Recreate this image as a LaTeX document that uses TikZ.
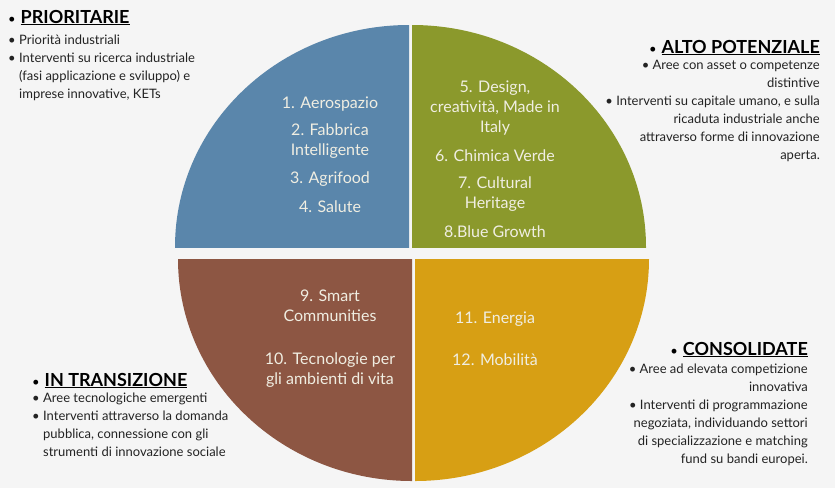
\documentclass[tikz,border=0pt]{standalone}
\usepackage{fontspec}
\setmainfont{Lato}

\definecolor{bggray}{RGB}{245,245,245}
\definecolor{quadblue}{RGB}{90,134,171}
\definecolor{quadgreen}{RGB}{139,153,44}
\definecolor{quadbrown}{RGB}{141,86,67}
\definecolor{quadgold}{RGB}{215,159,20}
\definecolor{labelwhite}{RGB}{240,238,226}
\definecolor{textgray}{RGB}{35,35,35}

\newcommand{\bitem}{\makebox[11pt][l]{\textbullet}}
\newcommand{\bcont}{\hspace*{11pt}}
\newcommand{\tbul}{{\normalfont\fontsize{13}{18}\selectfont\textbullet}\hspace{5pt}}

\begin{document}
\begin{tikzpicture}[
    x=1pt, y=-1pt,
    every node/.style={inner sep=0pt},
    sidetext/.style={font=\fontsize{13}{18}\selectfont, text=textgray},
    sidetitle/.style={font=\fontsize{18}{18}\selectfont\bfseries, text=black},
    sectorlabel/.style={font=\fontsize{16}{20}\selectfont, text=labelwhite, align=center},
]

% === Canvas ===
\fill[bggray] (0,0) rectangle (835,488);
\useasboundingbox (0,0) rectangle (835,488);

% === Ellipse radii ===
\def\rx{234}
\def\ry{222}

% === Quadrants (exploded pie) ===
% top left
\begin{scope}
    \clip (409,247) rectangle (0,0);
    \fill[quadblue] (409,247) ellipse [x radius=\rx, y radius=\ry];
\end{scope}
% top right
\begin{scope}
    \clip (412,247) rectangle (835,0);
    \fill[quadgreen] (412,247) ellipse [x radius=\rx, y radius=\ry];
\end{scope}
% bottom left
\begin{scope}
    \clip (412,259) rectangle (0,488);
    \fill[quadbrown] (412,259) ellipse [x radius=\rx, y radius=\ry];
\end{scope}
% bottom right
\begin{scope}
    \clip (415,259) rectangle (835,488);
    \fill[quadgold] (415,259) ellipse [x radius=\rx, y radius=\ry];
\end{scope}

% === Sector labels (base = last line) ===
\node[sectorlabel, anchor=base] (blue-list) at (330,212)
    {1. Aerospazio\\[7pt]2. Fabbrica\\Intelligente\\[8pt]3. Agrifood\\[9pt]4. Salute};
\node[sectorlabel, anchor=base] (green-list) at (495,237)
    {5. Design,\\creatività, Made in\\Italy\\[9pt]6. Chimica Verde\\[7pt]7. Cultural\\Heritage\\[9pt]8.Blue Growth};
\node[sectorlabel, anchor=base] (brown-list) at (330,384)
    {9. Smart\\Communities\\[23pt]10. Tecnologie per\\gli ambienti di vita};
\node[sectorlabel, anchor=base] (gold-list) at (495,365)
    {11. Energia\\[22pt]12. Mobilità};

% === Prioritarie (top left) ===
\node[sidetitle, anchor=base west] (prio-title) at (8,23)
    {\tbul\underline{PRIORITARIE}};
\node[sidetext, anchor=base west, align=left] (prio-text) at (8,98)
    {\bitem Priorità industriali\\
     \bitem Interventi su ricerca industriale\\
     \bcont(fasi applicazione e sviluppo) e\\
     \bcont imprese innovative, KETs};

% === Alto potenziale (top right) ===
\node[sidetitle, anchor=base east] (alto-title) at (820,53)
    {\tbul\underline{ALTO POTENZIALE}};
\node[sidetext, anchor=base east, align=right] (alto-text) at (820,159)
    {\textbullet\ Aree con asset o competenze\\
     distintive\\
     \textbullet\ Interventi su capitale umano, e sulla\\
     ricaduta industriale anche\\
     attraverso forme di innovazione\\
     aperta.};

% === In transizione (bottom left) ===
\node[sidetitle, anchor=base west] (trans-title) at (32,386)
    {\tbul\underline{IN TRANSIZIONE}};
\node[sidetext, anchor=base west, align=left] (trans-text) at (32,456)
    {\bitem Aree tecnologiche emergenti\\
     \bitem Interventi attraverso la domanda\\
     \bcont pubblica, connessione con gli\\
     \bcont strumenti di innovazione sociale};

% === Consolidate (bottom right) ===
\node[sidetitle, anchor=base east] (cons-title) at (808,355)
    {\tbul\underline{CONSOLIDATE}};
\node[sidetext, anchor=base east, align=right] (cons-text) at (808,463)
    {\textbullet\ Aree ad elevata competizione\\
     innovativa\\
     \textbullet\ Interventi di programmazione\\
     negoziata, individuando settori\\
     di specializzazione e matching\\
     fund su bandi europei.};

\end{tikzpicture}
\end{document}
